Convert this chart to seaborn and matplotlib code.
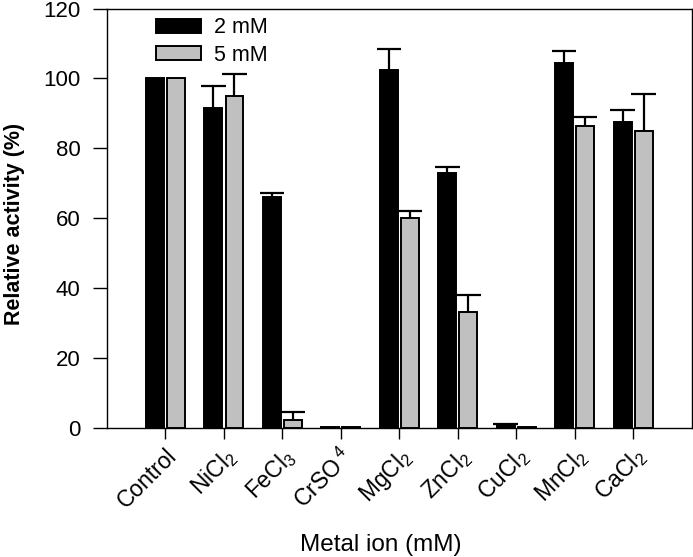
import pandas as pd
import numpy as np
from matplotlib import pyplot as plt
import seaborn as sns

# Datos
metals = ["Control", "NiCl$_2$", "FeCl$_3$", "CrSO$^{\\ 4}$", "MgCl$_2$",
          "ZnCl$_2$", "CuCl$_2$", "MnCl$_2$", "CaCl$_2$"]
act_2mM = [100, 91.5, 66.1, 0.4, 102.4, 72.9, 0.8, 104.4, 87.4]
act_5mM = [100, 94.9, 2.3, 0.4, 60.0, 33.2, 0.3, 86.5, 85.1]
err_2mM = [0, 6.2, 1.2, 0, 6.0, 1.7, 0.3, 3.4, 3.5]
err_5mM = [0, 6.3, 2.4, 0, 2.1, 4.9, 0, 2.5, 10.4]
conc = ["2 mM", "5 mM"]

df = pd.DataFrame({
    "metal": metals * 2,
    "activity": act_2mM + act_5mM,
    "conc": [conc[0]] * len(metals) + [conc[1]] * len(metals),
})

sns.set_theme(style="ticks", rc={"axes.edgecolor": "black", "text.color": "black",
                                 "axes.labelcolor": "black", "xtick.color": "black",
                                 "ytick.color": "black"})
plt.rcParams["font.family"] = ["Liberation Sans", "DejaVu Sans"]
plt.rcParams["mathtext.fontset"] = "custom"
plt.rcParams["mathtext.rm"] = "Liberation Sans"
plt.rcParams["mathtext.it"] = "Liberation Sans:italic"

fig = plt.figure(figsize=(6.93, 5.57), dpi=100)
ax = fig.add_axes([0.1544, 0.2316, 0.8436, 0.7531])

sns.barplot(data=df, x="metal", y="activity", hue="conc", order=metals,
            palette=["black", "#c0c0c0"], width=0.72, gap=0.15,
            edgecolor="black", linewidth=1.4, errorbar=None, ax=ax)

# Barras de error solo hacia arriba (linea + tapa superior)
cap = 0.21
for cont, errs in zip(ax.containers, [err_2mM, err_5mM]):
    for bar, e in zip(cont, errs):
        if e <= 0:
            continue
        xc = bar.get_x() + bar.get_width() / 2
        top = bar.get_height() + e
        ax.vlines(xc, bar.get_height(), top, color="black", linewidth=1.6)
        ax.hlines(top, xc - cap, xc + cap, color="black", linewidth=1.6)

ax.set_xlim(-1, 9)
ax.set_ylim(0, 120)
ax.set_yticks(range(0, 121, 20))
for s in ax.spines.values():
    s.set_linewidth(1.0)
ax.tick_params(direction="out", length=8, width=1.0)
ax.tick_params(axis="x", labelsize=16.5)
ax.tick_params(axis="y", length=10, pad=9, labelsize=16)
plt.setp(ax.get_xticklabels(), rotation=45, ha="right", rotation_mode="anchor")

ax.set_ylabel("Relative activity (%)", fontsize=15.5, fontweight="bold", va="center")
ax.yaxis.set_label_coords(-0.159, 0.487)
ax.set_xlabel("Metal ion (mM)", fontsize=17.5, va="center")
ax.xaxis.set_label_coords(0.469, -0.279)

ax.legend(loc="upper left", bbox_to_anchor=(0.05, 1.025), frameon=False,
          fontsize=15.5, handlelength=2.1, handleheight=0.6, labelspacing=0.3,
          handletextpad=0.6)

fig.savefig("out.png", dpi=100)
